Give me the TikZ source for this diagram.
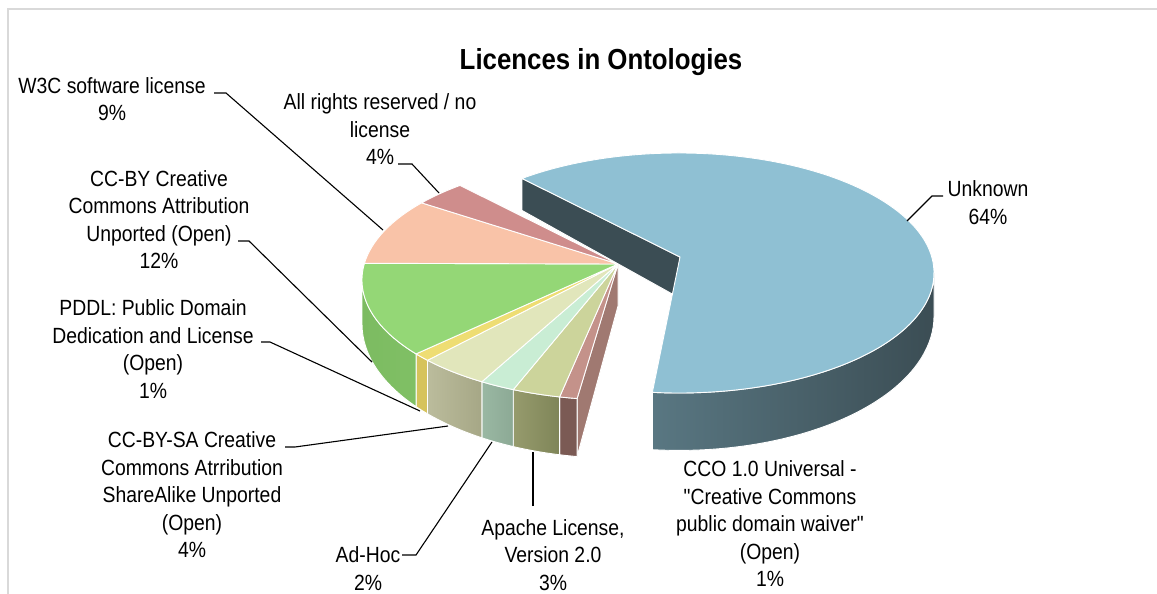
\documentclass[tikz,border=0pt]{standalone}
\usepackage{fontspec}
\setmainfont{Liberation Sans}
\newfontfamily\labfont[FakeStretch=0.88]{Liberation Sans}
\newfontfamily\titfont[FakeStretch=0.89]{Liberation Sans}
\definecolor{framecol}{HTML}{D9D9D9}
\definecolor{unk}{HTML}{8FC0D3}
\definecolor{unkwall}{HTML}{3B4D54}
\definecolor{unkwallL}{HTML}{597782}
\definecolor{cco}{HTML}{C4928A}
\definecolor{ccowallr}{HTML}{A07971}
\definecolor{ccowall}{HTML}{7B5A54}
\definecolor{apa}{HTML}{CCD49B}
\definecolor{apawallL}{HTML}{969B6D}
\definecolor{apawallR}{HTML}{7F8558}
\definecolor{adh}{HTML}{C9EDD4}
\definecolor{adhwallL}{HTML}{9AB8A3}
\definecolor{adhwallR}{HTML}{8CA995}
\definecolor{bysa}{HTML}{E1E6BB}
\definecolor{bysawallL}{HTML}{BBBC9C}
\definecolor{bysawallR}{HTML}{A6A786}
\definecolor{pddl}{HTML}{EEDD73}
\definecolor{pddlwall}{HTML}{D6C35C}
\definecolor{ccby}{HTML}{94D776}
\definecolor{ccbywallL}{HTML}{7CBB61}
\definecolor{ccbywallR}{HTML}{80C065}
\definecolor{w3c}{HTML}{F9C3A8}
\definecolor{rights}{HTML}{CF8D8C}
% top face of a slice: style, centre, apex, start angle, end angle
\newcommand\ptop[5]{\path[#1] (#3) -- ([shift={(#2)}]#4:255 and 120) arc[start angle=#4,end angle=#5,x radius=255,y radius=120] -- cycle;}
% outer wall: style, centre, start, end
\newcommand\pwall[4]{\path[#1] ([shift={(#2)}]#3:255 and 120) arc[start angle=#3,end angle=#4,x radius=255,y radius=120] -- ([shift={(#2b)}]#4:255 and 134.2) arc[start angle=#4,end angle=#3,x radius=255,y radius=134.2] -- cycle;}
% radial wall: style, centre, apex, angle
\newcommand\pradial[4]{\path[#1] (#3) -- ([shift={(#2)}]#4:255 and 120) -- ([shift={(#2b)}]#4:255 and 134.2) -- (#3b) -- cycle;}
\begin{document}
\begin{tikzpicture}[x=1pt,y=-1pt,
  edge/.style={draw=white,line width=0.9pt,line join=round},
  lab/.style={font=\labfont\fontsize{22}{27.5}\selectfont,align=center,inner sep=0pt},
  leader/.style={draw=black,line width=1.1pt}]
\useasboundingbox (0,0) rectangle (1157,594);
\draw[framecol,line width=1.3pt] (8,594) -- (8,9) -- (1157,9);
% geometry
\coordinate (C2) at (617,280); \coordinate (C2b) at (617,324);
\coordinate (A2) at (618,264); \coordinate (A2b) at (618,306);
\coordinate (C1) at (679,273); \coordinate (C1b) at (679,316.2);
\coordinate (A1) at (680,257); \coordinate (A1b) at (680,298.3);
% rest of pie: walls
\pradial{fill=ccowallr,edge}{C2}{A2}{99}
\pwall{fill=ccowall,edge}{C2}{99}{103}
\pwall{left color=apawallL,right color=apawallR,edge}{C2}{103}{114}
\pwall{left color=adhwallL,right color=adhwallR,edge}{C2}{114}{122}
\pwall{left color=bysawallL,right color=bysawallR,edge}{C2}{122}{138}
\pwall{fill=pddlwall,edge}{C2}{138}{142}
\pwall{left color=ccbywallL,right color=ccbywallR,edge}{C2}{142}{180}
% rest of pie: tops
\ptop{fill=cco,edge}{C2}{A2}{99}{103}
\ptop{fill=apa,edge}{C2}{A2}{103}{114}
\ptop{fill=adh,edge}{C2}{A2}{114}{122}
\ptop{fill=bysa,edge}{C2}{A2}{122}{138}
\ptop{fill=pddl,edge}{C2}{A2}{138}{142}
\ptop{fill=ccby,edge}{C2}{A2}{142}{188}
\ptop{fill=w3c,edge}{C2}{A2}{188}{220}
\ptop{fill=rights,edge}{C2}{A2}{220}{232}
% exploded Unknown slice
\pradial{fill=unkwall,edge}{C1}{A1}{232}
\pwall{left color=unkwallL,middle color=unkwall!95!white,right color=unkwall,edge}{C1}{0}{96}
\ptop{fill=unk,edge}{C1}{A1}{232}{456}
% title
\node[font=\titfont\bfseries\fontsize{29}{34}\selectfont,inner sep=0pt] (title) at (601,62) {Licences in Ontologies};
% labels
\node[lab] (lw3c) at (112,99) {W3C software license\\9\%};
\node[lab] (lrights) at (380,129.5) {All rights reserved / no\\license\\4\%};
\node[lab] (lccby) at (159,219.5) {CC-BY Creative\\Commons Attribution\\Unported (Open)\\12\%};
\node[lab] (lpddl) at (153,349) {PDDL: Public Domain\\Dedication and License\\(Open)\\1\%};
\node[lab] (lbysa) at (192,495) {CC-BY-SA Creative\\Commons Atrribution\\ShareAlike Unported\\(Open)\\4\%};
\node[lab] (ladh) at (368,568.5) {Ad-Hoc\\2\%};
\node[lab] (lapa) at (553,555) {Apache License,\\Version 2.0\\3\%};
\node[lab] (lcco) at (770,524) {CCO 1.0 Universal -\\"Creative Commons\\public domain waiver"\\(Open)\\1\%};
\node[lab] (lunk) at (988,202.5) {Unknown\\64\%};
% leader lines
\coordinate (w3ca) at (214,93); \coordinate (w3cb) at (226,93); \coordinate (w3cc) at (383,230);
\draw[leader] (w3ca) -- (w3cb) -- (w3cc);
\coordinate (riga) at (398,164); \coordinate (rigb) at (412,164); \coordinate (rigc) at (439,193);
\draw[leader] (riga) -- (rigb) -- (rigc);
\coordinate (ccba) at (238,241); \coordinate (ccbb) at (249,241); \coordinate (ccbc) at (372,362);
\draw[leader] (ccba) -- (ccbb) -- (ccbc);
\coordinate (pdda) at (261,342); \coordinate (pddb) at (270,342); \coordinate (pddc) at (420,411);
\draw[leader] (pdda) -- (pddb) -- (pddc);
\coordinate (bysaa) at (285,447); \coordinate (bysab) at (295,447); \coordinate (bysac) at (448,426);
\draw[leader] (bysaa) -- (bysab) -- (bysac);
\coordinate (adha) at (402,555); \coordinate (adhb) at (416,555); \coordinate (adhc) at (492,442);
\draw[leader] (adha) -- (adhb) -- (adhc);
\coordinate (apaa) at (533,506); \coordinate (apab) at (533,452);
\draw[leader] (apaa) -- (apab);
\coordinate (unka) at (943,196); \coordinate (unkb) at (932,196); \coordinate (unkc) at (907,221);
\draw[leader] (unka) -- (unkb) -- (unkc);
\end{tikzpicture}
\end{document}
